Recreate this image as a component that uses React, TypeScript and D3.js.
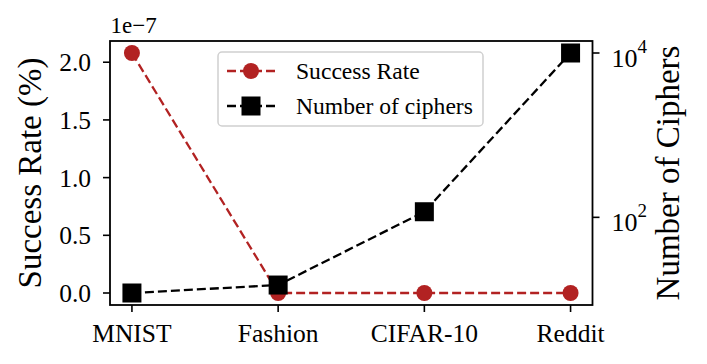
import React from 'react'
import * as d3 from 'd3'

const categories = ['MNIST', 'Fashion', 'CIFAR-10', 'Reddit']
const successRate = [2.08e-7, 0, 0, 0]
const cipherCounts = [12, 15, 117, 10000]
const leftTicks = [0, 0.5e-7, 1e-7, 1.5e-7, 2e-7]
const rightTicks = [2, 4]

const width = 707
const height = 364
const plot = { left: 110, right: 592.5, top: 41, bottom: 305 }
const red = '#b22222'
const font = '"Liberation Serif", "Times New Roman", serif'
const dash = '9,4'

export default function App() {
  // matplotlib style 5% margins
  const x = d3.scaleLinear().domain([-0.15, categories.length - 1 + 0.15]).range([plot.left, plot.right])

  const [sMin, sMax] = d3.extent(successRate) as [number, number]
  const sPad = (sMax - sMin) * 0.05
  const yLeft = d3.scaleLinear().domain([sMin - sPad, sMax + sPad]).range([plot.bottom, plot.top])

  const [cMin, cMax] = d3.extent(cipherCounts).map(Math.log10) as [number, number]
  const cPad = (cMax - cMin) * 0.05
  const yRight = d3.scaleLog()
    .domain([Math.pow(10, cMin - cPad), Math.pow(10, cMax + cPad)])
    .range([plot.bottom, plot.top])

  const redLine = d3.line<number>().x((d, i) => x(i)).y(d => yLeft(d))(successRate)
  const blackLine = d3.line<number>().x((d, i) => x(i)).y(d => yRight(d))(cipherCounts)

  const sq = 19
  const r = 8

  // legend
  const lg = { x: 218, y: 52, w: 265, h: 74 }
  const rows = [71, 106]

  return (
    <svg width={width} height={height} style={{ position: 'absolute', left: 0, top: 0, background: '#fff' }}
      fontFamily={font}>
      <rect x={0} y={0} width={width} height={height} fill="#fff" />

      {/* red series (left axis) */}
      <path d={redLine ?? ''} fill="none" stroke={red} strokeWidth={2.3} strokeDasharray={dash} />
      {successRate.map((d, i) => (
        <circle key={'c' + i} cx={x(i)} cy={yLeft(d)} r={r} fill={red} />
      ))}

      {/* black series (right axis) */}
      <path d={blackLine ?? ''} fill="none" stroke="#000" strokeWidth={2.3} strokeDasharray={dash} />
      {cipherCounts.map((d, i) => (
        <rect key={'s' + i} x={x(i) - sq / 2} y={yRight(d) - sq / 2} width={sq} height={sq} fill="#000" />
      ))}

      {/* frame */}
      <rect x={plot.left} y={plot.top} width={plot.right - plot.left} height={plot.bottom - plot.top}
        fill="none" stroke="#000" strokeWidth={1.8} />

      {/* x axis */}
      {categories.map((c, i) => (
        <g key={c}>
          <line x1={x(i)} x2={x(i)} y1={plot.bottom} y2={plot.bottom + 7} stroke="#000" strokeWidth={1.6} />
          <text x={x(i)} y={341.5} textAnchor="middle" fontSize={25.5}>{c}</text>
        </g>
      ))}

      {/* left axis */}
      {leftTicks.map(t => (
        <g key={'l' + t}>
          <line x1={plot.left - 7} x2={plot.left} y1={yLeft(t)} y2={yLeft(t)} stroke="#000" strokeWidth={1.6} />
          <text x={91} y={yLeft(t) + 9} textAnchor="end" fontSize={25.5}>{(t / 1e-7).toFixed(1)}</text>
        </g>
      ))}
      <text x={110.5} y={33} fontSize={23}>1e−7</text>
      <text transform={`translate(41,${(plot.top + plot.bottom) / 2}) rotate(-90)`} textAnchor="middle" fontSize={33}>
        Success Rate (%)
      </text>

      {/* right axis */}
      {rightTicks.map(p => {
        const y = yRight(Math.pow(10, p))
        return (
          <g key={'r' + p}>
            <line x1={plot.right} x2={plot.right + 7} y1={y} y2={y} stroke="#000" strokeWidth={1.6} />
            <text x={611.5} y={y + 14} fontSize={26}>
              10<tspan dy={-14} fontSize={19}>{p}</tspan>
            </text>
          </g>
        )
      })}
      <text transform={`translate(679,${(plot.top + plot.bottom) / 2}) rotate(-90)`} textAnchor="middle" fontSize={33}>
        Number of Ciphers
      </text>

      {/* legend */}
      <rect x={lg.x} y={lg.y} width={lg.w} height={lg.h} rx={4} fill="#fff" fillOpacity={0.8}
        stroke="#d0d0d0" strokeWidth={1.5} />
      <line x1={227} x2={275} y1={rows[0]} y2={rows[0]} stroke={red} strokeWidth={2.3} strokeDasharray={dash} />
      <circle cx={251} cy={rows[0]} r={r} fill={red} />
      <text x={296} y={rows[0] + 7.5} fontSize={23.6}>Success Rate</text>
      <line x1={227} x2={275} y1={rows[1]} y2={rows[1]} stroke="#000" strokeWidth={2.3} strokeDasharray={dash} />
      <rect x={251 - sq / 2} y={rows[1] - sq / 2} width={sq} height={sq} fill="#000" />
      <text x={296} y={rows[1] + 7.5} fontSize={23.6}>Number of ciphers</text>
    </svg>
  )
}
